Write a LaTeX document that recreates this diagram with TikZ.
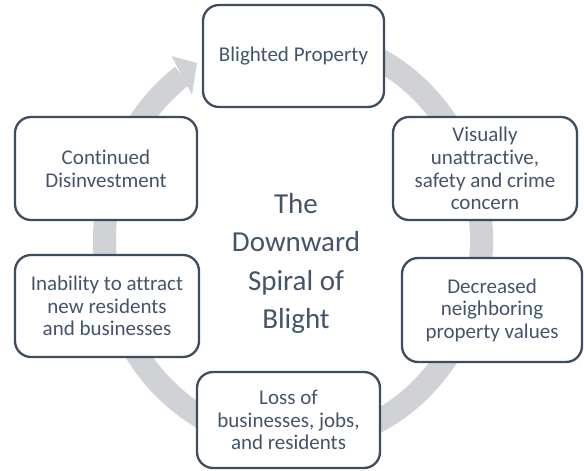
\documentclass[tikz,border=0pt]{standalone}
\usepackage{fontspec}
\setmainfont[Ligatures=NoCommon]{Carlito}
\definecolor{slate}{HTML}{44546A}
\definecolor{boxline}{HTML}{3E4C60}
\definecolor{ringgray}{RGB}{208,210,214}
\begin{document}
\begin{tikzpicture}[x=1pt,y=-1pt,
  cyclebox/.style={draw=boxline, line width=2.3pt, rounded corners=16pt, fill=white,
    align=center, inner sep=0pt, text=slate,
    font=\fontsize{21}{22.6}\selectfont},
  ring/.style={draw=ringgray, line width=23pt},
  ringhead/.style={fill=ringgray, draw=none}]
\useasboundingbox (0,0) rectangle (584,471);
% circular arrow in the background
\draw[ring] ([shift={(-100:188.5 and 203)}]293,240)
  arc[start angle=-100, end angle=234, x radius=188.5, y radius=203];
\fill[ringhead] (171.5,56) -- (197,63) -- (192,95) -- cycle;
% boxes
\node[cyclebox, minimum width=181pt, minimum height=102pt] (bp) at (293.5,56) {Blighted Property};
\node[cyclebox, minimum width=184pt, minimum height=103pt] (vu) at (485,168.5) {Visually\\unattractive,\\safety and crime\\concern};
\node[cyclebox, minimum width=180pt, minimum height=104pt] (dn) at (492,310) {Decreased\\neighboring\\property values};
\node[cyclebox, minimum width=183pt, minimum height=96pt] (lb) at (288.5,420) {Loss of\\businesses, jobs,\\and residents};
\node[cyclebox, minimum width=184pt, minimum height=102pt] (ia) at (107,306) {Inability to attract\\new residents\\and businesses};
\node[cyclebox, minimum width=182pt, minimum height=103pt] (cd) at (106,168.5) {Continued\\Disinvestment};
% centre title
\node[align=center, text=slate, inner sep=0pt, font=\fontsize{29}{38.5}\selectfont] (title) at (296,263.5) {The\\Downward\\Spiral of\\Blight};
\end{tikzpicture}
\end{document}
